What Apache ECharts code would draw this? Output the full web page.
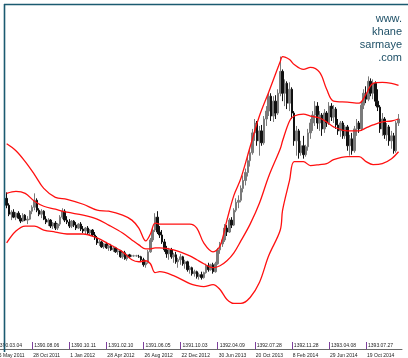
<!DOCTYPE html>
<html>
<head>
<meta charset="utf-8">
<script src="https://cdn.jsdelivr.net/npm/echarts@6/dist/echarts.min.js"></script>
<style>html,body{margin:0;padding:0;background:#fff;overflow:hidden;width:408px;height:358px;position:relative;}#c{position:absolute;left:-20px;top:0;width:428px;height:358px;}</style>
</head>
<body>
<div id="c"></div>
<script>
// ---- data (price units, arbitrary scale) ----
const barCount = 182;            // category slots
const firstBar = 11;             // slot of first traded bar
// rows: [open, high, low, close]
const ohlc = [
[152,158,142,145],[145,147,134,136],[136,140,130,138],[138,141,132,133],[133,138,130,137],
[137,139,131,132],[132,135,127,129],[129,137,128,135],[135,136,129,130],[130,134,126,131],
[131,140,130,139],[139,145,136,143],[143,157,140,150],[150,152,138,140],[140,142,134,136],
[136,141,132,139],[139,140,130,131],[131,134,126,128],[128,132,124,130],[130,131,122,124],
[124,128,121,127],[127,129,120,122],[122,127,120,126],[126,135,124,133],[133,142,131,139],
[139,141,128,130],[130,134,126,128],[128,131,122,124],[124,130,122,129],[129,130,123,125],
[125,128,120,122],[122,127,121,126],[126,128,119,121],[121,124,117,119],[119,123,116,122],
[122,124,116,117],[117,121,115,120],[120,121,114,115],[115,118,110,112],[112,114,105,107],
[107,110,104,108],[108,109,102,103],[103,107,101,106],[106,108,101,102],[102,105,99,104],
[104,106,99,100],[100,104,98,102],[102,103,97,98],[98,101,95,99],[99,100,92,93],
[93,98,91,97],[97,99,90,91],[91,96,89,95],[95,96,92,93],[94,95,93,94],
[94,95,93,94],[94,95,93,94],[93,95,92,93],[93,94,88,90],[90,92,83,85],
[85,89,82,87],[87,100,86,98],[98,112,97,110],[110,122,108,120],[120,137,118,133],
[133,139,116,118],[118,124,112,115],[115,120,106,108],[108,111,98,100],[100,104,92,96],
[96,102,90,100],[100,102,91,93],[93,97,87,95],[95,98,86,88],[88,92,82,90],
[90,96,85,93],[93,94,84,86],[86,90,81,88],[88,89,78,80],[80,84,76,82],
[82,83,74,76],[76,80,73,78],[78,79,71,73],[73,77,70,75],[75,78,70,72],
[72,78,71,77],[77,86,76,84],[84,87,78,80],[80,86,79,85],[85,87,76,78],
[78,88,77,86],[86,102,85,100],[100,108,96,106],[106,112,103,110],[110,126,108,122],
[122,125,114,118],[118,132,117,130],[130,133,122,125],[125,142,124,140],[140,152,138,148],
[148,155,142,150],[150,165,148,162],[162,175,158,170],[170,182,165,178],[178,195,174,190],
[190,202,184,198],[198,222,196,218],[218,232,210,228],[228,230,205,210],[210,225,195,220],
[220,226,205,208],[208,235,206,232],[232,245,225,240],[240,259,235,255],[255,258,230,235],
[235,255,229,250],[250,256,232,238],[238,262,236,258],[258,295,255,280],[280,282,250,258],
[258,272,245,268],[268,270,242,248],[248,269,240,262],[262,264,232,238],[238,240,205,210],
[210,225,195,220],[220,222,192,198],[198,210,195,205],[205,215,192,196],[196,206,194,204],
[204,222,200,218],[218,232,212,228],[228,240,220,236],[236,250,225,245],[245,249,222,228],
[228,240,220,236],[236,238,215,222],[222,242,218,238],[238,240,224,228],[228,249,226,245],
[245,248,230,234],[234,246,228,242],[242,244,222,226],[226,232,216,220],[220,230,214,228],
[228,230,212,215],[215,226,212,224],[224,226,200,205],[205,216,195,212],[212,218,196,200],
[200,225,198,222],[222,232,215,228],[228,230,218,222],[222,250,220,246],[246,262,242,258],
[258,265,248,252],[252,275,250,270],[270,273,255,258],[258,272,252,268],[268,270,245,250],
[250,262,240,244],[244,246,218,222],[222,238,215,232],[232,234,212,216],[216,228,210,224],
[224,226,205,210],[210,220,202,215],[215,218,197,200],[200,230,198,228],[228,237,225,232]
];

// Bollinger bands at these bar slots
const bandSlot  = [11,15,19,23,27,32,37,44,50,55,61,65,68,71,73,75,77,83,90,93,96,100,103,106,109,112,116,120,124,129,130,133,135,139,142,146,149,152,158,163,166,169,173,177,180];
const bandUpper = [207,200,189,176,162,153,151,146,140,139,135,130,122,109,116,127,126,126,126,122,107,98,104,130,155,172,204,235,259,290,295,292,287,282,284,279,262,250,249,248,257,268,269,268,266];
const bandMid   = [157,159,157,149,144,141,138,135,131,125,117,110,105,101,101,102,102,100,94,90,86,82,84,89,97,109,126,147,174,202,210,230,235,237,235,233,229,224,220,220,223,226,229,230,232];
const bandLower = [107,119,124,124,120,118,116,116,112,106,98,90,88,89,86,77,78,74,66,64,63,65,60,50,46,46,52,67,94,120,140,170,189,189,185,186,187,191,194,194,189,186,187,192,199];

// axis tick labels
const tickSlot = [6,22,38,54,70,86,102,118,134,150,166];
const tickPersian = ['1390.03.04','1390.08.06','1390.10.11','1391.02.10','1391.06.05','1391.10.03','1392.04.09','1392.07.28','1392.11.28','1393.04.08','1393.07.27'];
const tickGregorian = ['25 May 2011','28 Oct 2011','1 Jan 2012','28 Apr 2012','26 Aug 2012','22 Dec 2012','30 Jun 2013','20 Oct 2013','8 Feb 2014','29 Jun 2014','19 Oct 2014'];

// ---- build ----
const categories = [];
for (let i = 0; i < barCount; i++) categories.push(String(i));
const candleData = categories.map(() => '-');
ohlc.forEach((r, k) => { candleData[firstBar + k] = [r[0], r[3], r[2], r[1]]; });
const pair = (vals) => bandSlot.map((s, k) => [s, vals[k]]);
const isTick = (idx) => tickSlot.indexOf(idx) >= 0;
const shift = 20; // canvas starts 20px left of the window

const chart = echarts.init(document.getElementById('c'), null, {renderer: 'canvas'});
chart.setOption({
  animation: false,
  backgroundColor: '#ffffff',
  grid: {left: 0, right: 6, top: 5, bottom: 6, containLabel: false},
  xAxis: [{
    type: 'category', data: categories, boundaryGap: true, position: 'bottom',
    axisLine: {show: true, lineStyle: {color: '#6a6a6a', width: 1}},
    axisTick: {show: true, inside: true, length: 7, alignWithLabel: true, interval: isTick,
               lineStyle: {color: '#7d3f9c', width: 1}},
    axisLabel: {show: true, inside: true, interval: isTick, margin: 1, align: 'left',
                padding: [0, 0, 0, 2], fontSize: 5, color: '#222', fontFamily: 'Liberation Sans',
                formatter: (v, idx) => { const k = tickSlot.indexOf(idx); return k >= 0 ? tickPersian[k] : ''; }},
    splitLine: {show: false}
  }, {
    type: 'category', data: categories, boundaryGap: true, position: 'bottom',
    axisLine: {show: false}, axisTick: {show: false},
    axisLabel: {show: true, interval: isTick, margin: 4, align: 'left', padding: [0, 0, 0, 1],
                fontSize: 5, color: '#222', fontFamily: 'Liberation Sans',
                formatter: (v, idx) => { const k = tickSlot.indexOf(idx); return k >= 0 ? tickGregorian[k] : ''; }},
    splitLine: {show: false}
  }],
  yAxis: {type: 'value', min: 0, max: 347, show: false, splitLine: {show: false}},
  series: [{
    type: 'candlestick', xAxisIndex: 0, data: candleData, barWidth: 2,
    itemStyle: {color: '#7a7a7a', color0: '#111111', borderColor: '#7a7a7a', borderColor0: '#111111', borderWidth: 1}
  }, {
    type: 'line', data: pair(bandUpper), smooth: 0.35, symbol: 'none',
    lineStyle: {color: '#ff1010', width: 1.3}
  }, {
    type: 'line', data: pair(bandMid), smooth: 0.35, symbol: 'none',
    lineStyle: {color: '#ff1010', width: 1.3}
  }, {
    type: 'line', data: pair(bandLower), smooth: 0.35, symbol: 'none',
    lineStyle: {color: '#ff1010', width: 1.3}
  }],
  graphic: [
    {type: 'line', shape: {x1: shift + 4.5, y1: 4, x2: shift + 4.5, y2: 352}, style: {stroke: '#1b5a70', lineWidth: 1.6}, z: 100},
    {type: 'line', shape: {x1: shift + 4, y1: 4.5, x2: shift + 408, y2: 4.5}, style: {stroke: '#1b5a70', lineWidth: 1.6}, z: 100},
    {type: 'text', right: 6, top: 12, z: 100,
     style: {text: 'www.\nkhane\nsarmaye\n.com', fill: '#1d4f66', font: '11px "Liberation Sans"', textAlign: 'right', lineHeight: 13}}
  ]
});
</script>
</body>
</html>
